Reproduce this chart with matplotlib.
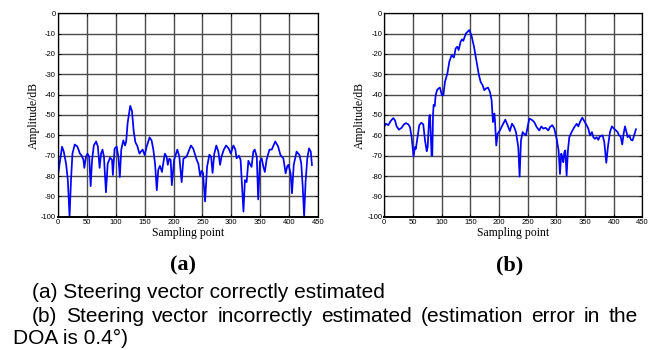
import matplotlib
matplotlib.use('Agg')
import matplotlib.pyplot as plt
import numpy as np

plt.rcParams['axes.unicode_minus'] = False

# (a) steering vector correctly estimated
xa = [0, 7, 10, 14, 17, 20, 22.5, 25, 29, 33.5, 38, 41, 44, 45.5, 48.5, 51, 54, 56.5, 59, 62,
      66, 69, 72, 74.5, 77, 79.5, 83, 86, 90, 93.5, 95, 98, 101.5, 104.5, 107, 109.5, 113, 116, 118,
      120.5, 125, 128, 131, 134, 137, 141, 143.5, 146.5, 150, 153.5, 158.5, 162, 165, 168, 171,
      173.5, 176.5, 180, 182, 185, 188, 190, 192.5, 195, 197, 201, 206.5, 210, 214, 217, 222.5,
      230, 234, 240, 243, 246, 248.5, 251, 254.5, 258, 262, 265, 267.5, 270.5, 274, 277.5, 280.5,
      283, 287, 291, 295.5, 299, 303.5, 307, 309, 313, 316, 321, 323.5, 326.5, 329.5, 332, 335,
      338, 340.5, 344, 346.5, 349.5, 352.5, 355.5, 358, 361, 366, 370, 376, 381, 385, 390, 394,
      397, 399, 402.5, 405, 408, 413, 418, 421, 423.5, 426, 428.5, 431.5, 434.5, 437.5, 439.5]
ya = [-79.5, -65.6, -68, -74, -82, -100, -82, -69, -64.5, -65.5, -69, -70, -72, -76, -70.5, -69,
      -70.5, -85, -72, -65, -63, -65.5, -76, -69, -67, -70.5, -88, -74, -71, -72, -79.5, -66.5,
      -65.5, -70.5, -80.5, -67, -62.5, -65, -63, -54, -45.5, -48, -58, -63.5, -65, -69, -68, -67,
      -69.7, -65.5, -61, -62.5, -67, -74, -87, -77, -75, -78, -74, -69, -70.5, -74.5, -71.5, -72,
      -84.5, -72, -67, -70.5, -83, -71.5, -70.5, -65, -66.5, -72, -74, -80, -77.5, -78.5, -92.5,
      -75.5, -69.5, -70.5, -78.5, -69, -65, -68, -74.5, -70.5, -67, -65, -66.5, -69, -65, -67,
      -71.3, -70, -72, -97.5, -82, -83, -72.5, -74, -75.5, -68, -67, -70.5, -91.5, -73, -71.3,
      -75.5, -78, -72, -67, -67, -63, -65.5, -69.7, -71.3, -78.7, -75, -74.5, -78.7, -88.5, -74.5,
      -68, -69.7, -73.8, -85, -100, -82.8, -71.3, -66.4, -68, -74.6]

# (b) steering vector incorrectly estimated
xb = [0, 3, 7, 11, 15.7, 18.6, 21.5, 25.6, 30, 34.3, 37.8, 42, 44.8, 47.7, 51, 53.5, 55, 58, 61,
      64.5, 68, 71, 74, 75.6, 78.5, 79.7, 82.5, 83.7, 85, 86, 88, 89.5, 92.4, 97, 100.5, 103,
      105.8, 110, 113.4, 117.4, 121.5, 124.4, 127.3, 129.7, 133, 135.5, 137.8, 142.4, 148.3,
      152.3, 156.4, 161, 165, 168, 171.5, 174.4, 177.3, 180.8, 184.3, 187.2, 189.5, 192, 193,
      195.3, 197.7, 201.7, 205, 211, 214.5, 219, 222.7, 226, 229.7, 233.7, 236, 238.4, 241.3,
      243.6, 247, 250, 253, 257, 261.6, 265.7, 270.3, 273.8, 277.3, 281.4, 286, 289, 293, 296.5,
      300.6, 304, 306.4, 308.7, 310.5, 312.2, 314, 315.7, 318, 320.3, 322.7, 326.7, 331.4, 335.5,
      338.4, 341.3, 345.3, 348.8, 352.9, 355.8, 358.7, 362.2, 364.5, 367.4, 370.3, 373.2, 376,
      380.8, 383.7, 387.2, 390, 393.6, 397, 400.6, 404, 407, 409.3, 412.2, 415, 417.4, 419.8,
      422, 424.4, 427.3, 430.2, 433, 436.6, 439]
yb = [-55.6, -54.3, -55, -53, -51.5, -52.6, -55.6, -57.2, -56.3, -54.6, -54, -54.6, -56, -60.9,
      -70.4, -65.8, -66.6, -60.9, -55, -53.8, -54.6, -62.5, -67.8, -65.8, -50.2, -50, -70, -70,
      -50, -45, -45.6, -40.3, -37.5, -36.5, -40.3, -40.3, -33.7, -29.6, -23.8, -20.6, -21.7,
      -17.3, -16.4, -18.1, -14, -12.8, -13.5, -9.9, -8.2, -11.2, -16.4, -23.8, -30.4, -33.7,
      -35.4, -37.8, -37, -36.5, -38.7, -42.8, -53.5, -49.3, -52.6, -65, -59.2, -57.6, -55.6,
      -52.3, -54.6, -57.9, -54.3, -55.6, -58.4, -65.8, -80.3, -62.5, -58.4, -59.2, -60, -56,
      -51.8, -52.3, -53.5, -55.9, -57.6, -55.6, -56.7, -56.3, -57.6, -55.9, -55, -56.7, -61.7,
      -67.4, -79, -69, -70.7, -73.2, -68.3, -67.4, -79.8, -67.4, -60.9, -58.4, -56, -54.3, -55.6,
      -53.5, -51.3, -53, -55, -56.7, -60, -58.4, -60.9, -61.7, -60.9, -62.2, -60.5, -60, -63.3,
      -73.5, -65.8, -58.4, -55.6, -56.7, -57.6, -58.4, -60, -60.5, -64.5, -59.2, -55.6, -57.9,
      -60.9, -60, -62.2, -62.5, -59.2, -57]

xticks = np.arange(0, 451, 50)
yticks = np.arange(-100, 1, 10)

fig = plt.figure(figsize=(6.57, 3.5), dpi=100)
fig.patch.set_facecolor('white')

def draw_panel(rect, x, y, tag, tag_x):
    ax = fig.add_axes(rect)
    ax.plot(x, y, color='#0000ff', lw=1.25)
    ax.set_xlim(0, 450)
    ax.set_ylim(-100, 0)
    ax.set_xticks(xticks)
    ax.set_yticks(yticks)
    ax.tick_params(direction='in', length=2, width=0.6, labelsize=5.5, pad=1.5,
                   top=True, right=True)
    for lab in ax.get_xticklabels() + ax.get_yticklabels():
        lab.set_family('Liberation Sans')
    ax.grid(True, color='#4a4a4a', lw=1.0)
    for s in ax.spines.values():
        s.set_linewidth(0.9)
    ax.spines['bottom'].set_linewidth(1.4)
    ax.set_xlabel('Sampling point', family='Liberation Serif', fontsize=8.5, labelpad=1)
    ax.set_ylabel('Amplitude/dB', family='Liberation Serif', fontsize=8.5, labelpad=1)
    fig.text(tag_x / 657, 1 - 265 / 350, tag, family='Liberation Serif', fontsize=16,
             fontweight='bold', ha='center', va='center')
    return ax

draw_panel([58 / 657, 1 - 216.7 / 350, 260 / 657, 203.4 / 350], xa, ya, '(a)', 183)
draw_panel([384.3 / 657, 1 - 216.7 / 350, 258 / 657, 203.4 / 350], xb, yb, '(b)', 510)

cap_font = ['Liberation Sans', 'DejaVu Sans']
cap_size = 15

fig.text(32 / 657, 1 - 293 / 350, '(a) Steering vector correctly estimated',
         family=cap_font, fontsize=cap_size, va='center')
fig.text(13 / 657, 1 - 338 / 350, 'DOA is 0.4\u00b0)',
         family=cap_font, fontsize=cap_size, va='center')

# justified line: spread the words between x=32 and x=638
words = '(b) Steering vector incorrectly estimated (estimation error in the'.split()
renderer = fig.canvas.get_renderer()
objs = [fig.text(0, 1 - 316 / 350, w, family=cap_font, fontsize=cap_size, va='center')
        for w in words]
widths = [t.get_window_extent(renderer).width for t in objs]
gap = (638 - 32 - sum(widths)) / (len(words) - 1)
pos = 32
for t, w in zip(objs, widths):
    t.set_x(pos / 657)
    pos += w + gap

fig.savefig('out.png', dpi=100)
